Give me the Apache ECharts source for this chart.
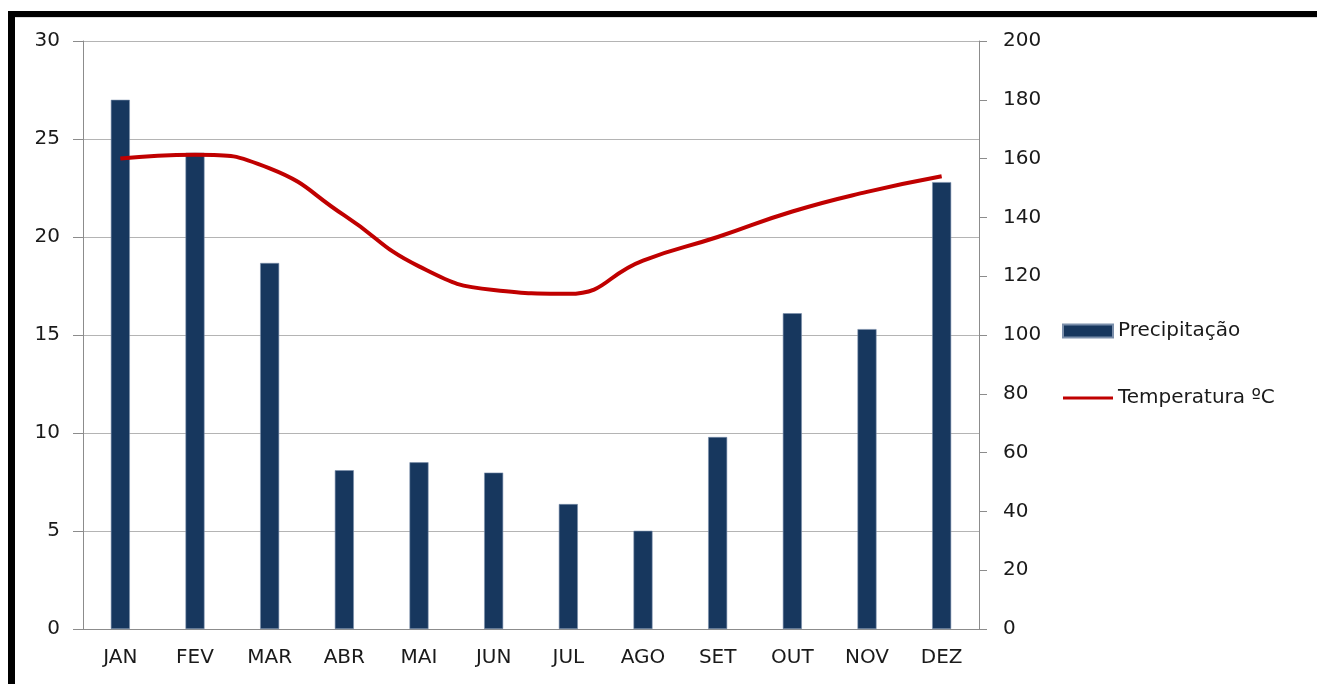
<!DOCTYPE html>
<html>
<head>
<meta charset="utf-8">
<script src="https://cdn.jsdelivr.net/npm/echarts@6/dist/echarts.min.js"></script>
<style>
html,body{margin:0;padding:0;background:#fff;}
#c{width:1317px;height:684px;}
</style>
</head>
<body>
<div id="c"></div>
<script>
const months = ['JAN','FEV','MAR','ABR','MAI','JUN','JUL','AGO','SET','OUT','NOV','DEZ'];
const precipitacao = [180, 162, 124.5, 54, 56.7, 53.2, 42.5, 33.4, 65.3, 107.4, 102, 152];
const temperatura = [24.0, 24.2, 23.5, 21.1, 18.5, 17.3, 17.1, 18.8, 20.0, 21.3, 22.3, 23.1];
const leftTicks = {min: 0, max: 30, interval: 5};
const rightTicks = {min: 0, max: 200, interval: 20};

const chart = echarts.init(document.getElementById('c'));
const font = 'DejaVu Sans';
const lineIcon = 'path://M0,0 L0,0 M0,4.5 L50,4.5 L50,7.5 L0,7.5 Z M50,12 L50,12';
chart.setOption({
  animation: false,
  backgroundColor: '#fff',
  textStyle: {fontFamily: font},
  grid: {left: 83, right: 338, top: 41, bottom: 55},
  legend: {
    orient: 'vertical',
    left: 1062,
    top: 321,
    padding: 0,
    itemWidth: 50,
    itemHeight: 13,
    itemGap: 47,
    textStyle: {fontFamily: font, fontSize: 20, color: '#1a1a1a', padding: [0,0,0,0]},
    data: [
      {name: 'Precipitação', icon: 'rect'},
      {name: 'Temperatura ºC', icon: lineIcon, itemStyle: {color: '#C00000'}}
    ]
  },
  xAxis: {
    type: 'category',
    data: months,
    axisLine: {lineStyle: {color: '#8c8c8c', width: 1}},
    axisTick: {show: false},
    axisLabel: {color: '#1a1a1a', fontSize: 20, margin: 19, fontFamily: font},
    splitLine: {show: false}
  },
  yAxis: [
    {
      type: 'value',
      position: 'left',
      min: leftTicks.min, max: leftTicks.max, interval: leftTicks.interval,
      axisLine: {show: true, lineStyle: {color: '#8c8c8c'}},
      axisTick: {show: true, length: 10, lineStyle: {color: '#8c8c8c'}},
      axisLabel: {color: '#1a1a1a', fontSize: 20, margin: 23, fontFamily: font},
      splitLine: {show: true, lineStyle: {color: '#b4b4b4', width: 1}}
    },
    {
      type: 'value',
      position: 'right',
      min: rightTicks.min, max: rightTicks.max, interval: rightTicks.interval,
      axisLine: {show: true, lineStyle: {color: '#8c8c8c'}},
      axisTick: {show: true, length: 8, lineStyle: {color: '#8c8c8c'}},
      axisLabel: {color: '#1a1a1a', fontSize: 20, margin: 24, fontFamily: font},
      splitLine: {show: false}
    }
  ],
  series: [
    {
      name: 'Precipitação',
      type: 'bar',
      yAxisIndex: 1,
      data: precipitacao,
      barWidth: 19,
      itemStyle: {color: '#17375E', borderColor: '#7b8fab', borderWidth: 0.6},
      z: 2
    },
    {
      name: 'Temperatura ºC',
      type: 'line',
      yAxisIndex: 0,
      data: temperatura,
      smooth: 0.5,
      symbol: 'none',
      lineStyle: {color: '#C00000', width: 4},
      itemStyle: {color: '#C00000'},
      z: 3
    }
  ],
  graphic: [
    {type: 'rect', shape: {x: 8, y: 11, width: 1309, height: 6}, style: {fill: '#000'}, z: 100},
    {type: 'rect', shape: {x: 8, y: 11, width: 7, height: 673}, style: {fill: '#000'}, z: 100},
    {type: 'rect', shape: {x: 15, y: 17, width: 1302, height: 1}, style: {fill: '#ddd'}, z: 100}
  ]
});
</script>
</body>
</html>
